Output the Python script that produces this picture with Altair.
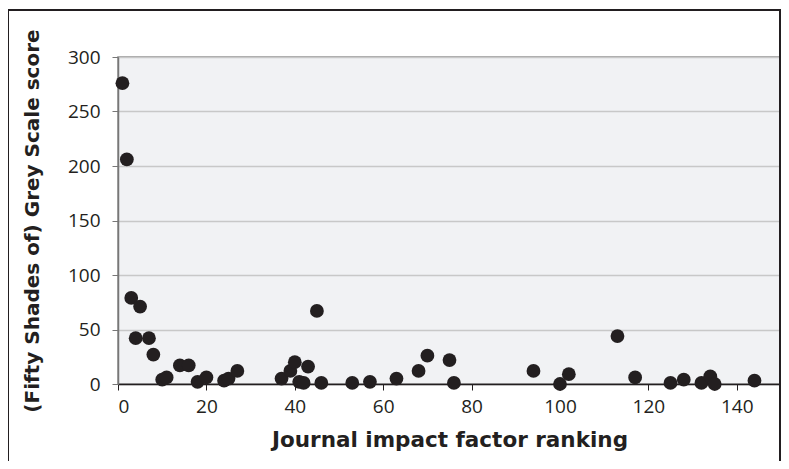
import altair as alt
import pandas as pd

# Journal impact factor ranking vs (Fifty Shades of) Grey Scale score
ranking = [1, 2, 3, 4, 5, 7, 8, 10, 11, 14, 16, 18, 20, 24, 25, 27, 37, 39, 40, 41, 42,
           43, 45, 46, 53, 57, 63, 68, 70, 75, 76, 94, 100, 102, 113, 117, 125, 128,
           132, 134, 135, 144]
score = [276, 206, 79, 42, 71, 42, 27, 4, 6, 17, 17, 2, 6, 3, 5, 12, 5, 12, 20, 2, 1,
         16, 67, 1, 1, 2, 5, 12, 26, 22, 1, 12, 0, 9, 44, 6, 1, 4, 1, 7, 0, 3]
x_ticks = [0, 20, 40, 60, 80, 100, 120, 140]
y_ticks = [0, 50, 100, 150, 200, 250, 300]

df = pd.DataFrame({"rank": ranking, "score": score})

W, H = 663, 327
LABEL_FONT = "Open Sans"
TITLE_FONT = "DejaVu Sans"

points = alt.Chart(df).mark_circle(size=190, color="#231F20", opacity=1).encode(
    x=alt.X("rank:Q",
            scale=alt.Scale(domain=[0, 150], nice=False),
            axis=alt.Axis(values=x_ticks, title="Journal impact factor ranking",
                          grid=False, domainColor="#231F20", domainWidth=1.5,
                          tickColor="#231F20", tickSize=6, labelPadding=7,
                          labelFontSize=19, labelColor="#231F20", labelFont=LABEL_FONT,
                          titleFontSize=21.5, titleFont=TITLE_FONT, titleFontWeight="bold",
                          titleColor="#231F20", titlePadding=13)),
    y=alt.Y("score:Q",
            scale=alt.Scale(domain=[0, 300], nice=False),
            axis=alt.Axis(values=y_ticks, title="(Fifty Shades of) Grey Scale score",
                          grid=True, gridColor="#C8C8C8", gridWidth=1.5,
                          domainColor="#777777", domainWidth=1.5,
                          tickColor="#777777", tickSize=6, labelPadding=12,
                          labelFontSize=19, labelColor="#231F20", labelFont=LABEL_FONT,
                          titleFontSize=20, titleFont=TITLE_FONT, titleFontWeight="bold",
                          titleColor="#231F20", titlePadding=25)),
)

frame = alt.Chart(df).mark_rect(fill=None, stroke="#231F20", strokeWidth=1.5, clip=False).encode(
    x=alt.value(-110), x2=alt.value(662), y=alt.value(-47), y2=alt.value(440)
)

chart = alt.layer(frame, points).properties(
    width=W, height=H,
    padding={"left": 110, "top": 49, "right": 0, "bottom": 77},
    autosize=alt.AutoSizeParams(type="none"),
    background="white",
).configure_view(
    fill="#F1F2F4", stroke="#8A8A8A", strokeWidth=1.5
)

chart.save("out.html", embed_options={"renderer": "svg", "actions": False})
